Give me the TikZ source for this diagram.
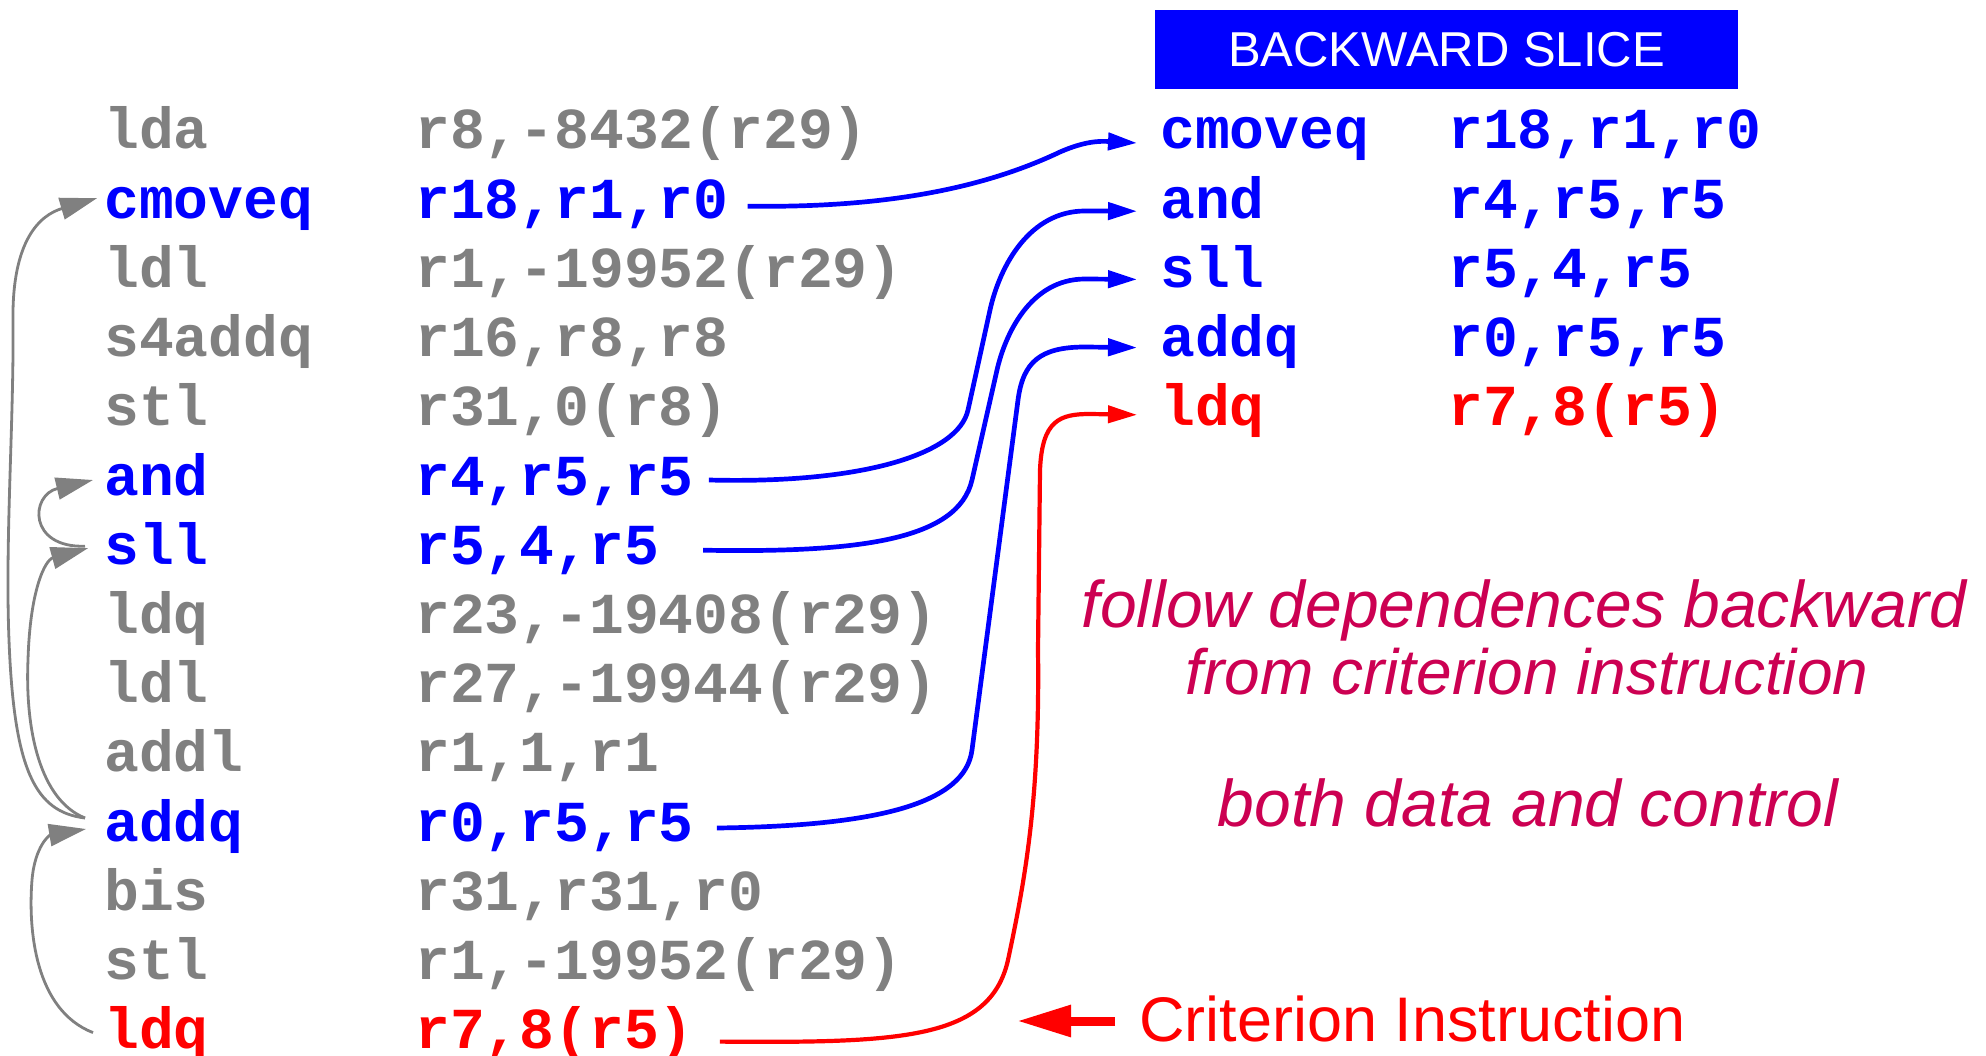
\documentclass[tikz,border=0pt]{standalone}
\usepackage{fontspec}
\setmainfont{Liberation Sans}
\newfontfamily\monofam{Liberation Mono}
\usetikzlibrary{arrows.meta,calc}
\definecolor{codegray}{RGB}{128,128,128}
\definecolor{crim}{RGB}{204,0,82}
\tikzset{
  code/.style={font=\monofam\bfseries\fontsize{58pt}{60pt}\selectfont, inner sep=0pt, anchor=base west},
  gry/.style={code, text=codegray},
  blu/.style={code, text=blue},
  rd/.style={code, text=red},
  bluecon/.style={draw=blue, line width=4.7pt, -{Triangle[length=29pt,width=17pt]}},
  redcon/.style={draw=red, line width=4.2pt, -{Triangle[length=29pt,width=17pt]}},
  graycon/.style={draw=codegray, line width=2.8pt, -{Triangle[length=37pt,width=22pt]}},
  note/.style={text=crim, inner sep=0pt, anchor=base},
}
\begin{document}
\begin{tikzpicture}[x=1pt,y=-1pt]
\fill[white] (0,0) rectangle (1986,1056);
\useasboundingbox (0,0) rectangle (1986,1056);

% header
\node[fill=blue, minimum width=583pt, minimum height=79pt, inner sep=0pt, text=white,
      font=\fontsize{49pt}{52pt}\selectfont] (title) at (1446.5,49.5) {BACKWARD SLICE};

% left listing
\node[gry] (L1)  at (104,149)    {lda};    \node[gry] (O1)  at (415,149)    {r8,-8432(r29)};
\node[blu] (L2)  at (104,218.2)  {cmoveq}; \node[blu] (O2)  at (415,218.2)  {r18,r1,r0};
\node[gry] (L3)  at (104,287.4)  {ldl};    \node[gry] (O3)  at (415,287.4)  {r1,-19952(r29)};
\node[gry] (L4)  at (104,356.6)  {s4addq}; \node[gry] (O4)  at (415,356.6)  {r16,r8,r8};
\node[gry] (L5)  at (104,425.8)  {stl};    \node[gry] (O5)  at (415,425.8)  {r31,0(r8)};
\node[blu] (L6)  at (104,495)    {and};    \node[blu] (O6)  at (415,495)    {r4,r5,r5};
\node[blu] (L7)  at (104,564.2)  {sll};    \node[blu] (O7)  at (415,564.2)  {r5,4,r5};
\node[gry] (L8)  at (104,633.4)  {ldq};    \node[gry] (O8)  at (415,633.4)  {r23,-19408(r29)};
\node[gry] (L9)  at (104,702.6)  {ldl};    \node[gry] (O9)  at (415,702.6)  {r27,-19944(r29)};
\node[gry] (L10) at (104,771.8)  {addl};   \node[gry] (O10) at (415,771.8)  {r1,1,r1};
\node[blu] (L11) at (104,841)    {addq};   \node[blu] (O11) at (415,841)    {r0,r5,r5};
\node[gry] (L12) at (104,910.2)  {bis};    \node[gry] (O12) at (415,910.2)  {r31,r31,r0};
\node[gry] (L13) at (104,979.4)  {stl};    \node[gry] (O13) at (415,979.4)  {r1,-19952(r29)};
\node[rd]  (L14) at (104,1048.6) {ldq};    \node[rd]  (O14) at (415,1048.6) {r7,8(r5)};

% right listing (slice)
\node[blu] (R1) at (1160,149)   {cmoveq}; \node[blu] (RO1) at (1448,149)   {r18,r1,r0};
\node[blu] (R2) at (1160,218.2) {and};    \node[blu] (RO2) at (1448,218.2) {r4,r5,r5};
\node[blu] (R3) at (1160,287.4) {sll};    \node[blu] (RO3) at (1448,287.4) {r5,4,r5};
\node[blu] (R4) at (1160,356.6) {addq};   \node[blu] (RO4) at (1448,356.6) {r0,r5,r5};
\node[rd]  (R5) at (1160,425.8) {ldq};    \node[rd]  (RO5) at (1448,425.8) {r7,8(r5)};

% notes
\node[note, font=\itshape\fontsize{66pt}{70pt}\selectfont] (n1) at (1524,627) {follow dependences backward};
\node[note, font=\itshape\fontsize{64pt}{70pt}\selectfont] (n2) at (1527,694) {from criterion instruction};
\node[note, font=\itshape\fontsize{66pt}{70pt}\selectfont] (n3) at (1528,826) {both data and control};

\node[font=\fontsize{63pt}{66pt}\selectfont, text=red, inner sep=0pt, anchor=base west] (crit) at (1139,1041) {Criterion Instruction};
\coordinate (ctail) at ($(crit.base west)+(-24,-20)$);
\coordinate (ctip) at ($(crit.base west)+(-122,-20)$);
\draw[red, line width=9pt, -{Triangle[length=54pt,width=30pt]}] (ctail) -- (ctip);

% blue / red slice connectors
\draw[bluecon] ($(O2.base east)+(19,-12)$) .. controls (880,208) and (980,190) .. (1060,152)
   .. controls (1085,141) and (1100,141) .. ($(R1.base west)+(-23,-6)$);
\draw[bluecon] ($(O6.base east)+(15,-15)$) .. controls (860,484) and (958,455) .. (968,410) -- (990,310)
   .. controls (1000,265) and (1030,211) .. (1085,211) -- ($(R2.base west)+(-23,-7)$);
\draw[bluecon] ($(O7.base east)+(44,-14)$) .. controls (860,553) and (958,540) .. (972,480) -- (997,370)
   .. controls (1005,335) and (1030,279) .. (1085,279) -- ($(R3.base west)+(-23,-8)$);
\draw[bluecon] ($(O11.base east)+(23,-13)$) .. controls (880,826) and (965,803) .. (972,750) -- (1018,400)
   .. controls (1023,362) and (1040,347) .. (1085,347) -- ($(R4.base west)+(-23,-9)$);
\draw[redcon] ($(O14.base east)+(26,-7)$) .. controls (900,1043) and (990,1040) .. (1008,960)
   .. controls (1025,880) and (1040,800) .. (1038,650) -- (1040,470)
   .. controls (1042,420) and (1060,414) .. (1090,414) -- ($(R5.base west)+(-23,-11)$);

% gray dependence arrows
\draw[graycon] ($(L11.base west)+(-19,-23)$) .. controls (35,812) and (14,770) .. (9,640)
   .. controls (5,540) and (14,420) .. (13,320) .. controls (12,240) and (40,215) .. ($(L2.base west)+(-7,-20)$);
\draw[graycon] ($(L11.base west)+(-19,-23)$) .. controls (40,800) and (25,730) .. (28,660)
   .. controls (30,590) and (45,560) .. ($(L7.base west)+(-16,-16)$);
\draw[graycon] ($(L7.base west)+(-19,-18)$) .. controls (28,548) and (30,495) .. ($(L6.base west)+(-11,-15)$);
\draw[graycon] ($(L14.base west)+(-11,-16)$) .. controls (35,1010) and (28,930) .. (32,880)
   .. controls (35,845) and (50,835) .. ($(L11.base west)+(-18,-12)$);
\end{tikzpicture}
\end{document}
